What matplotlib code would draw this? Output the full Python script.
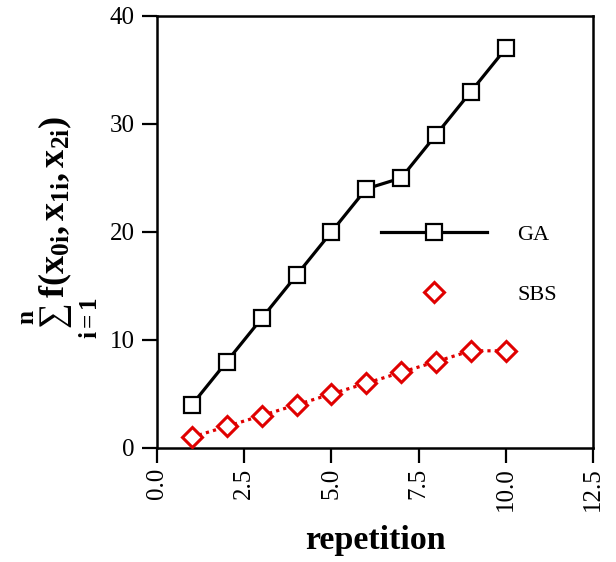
import matplotlib
matplotlib.use("Agg")
import matplotlib.pyplot as plt
from matplotlib.lines import Line2D

repetition = [1, 2, 3, 4, 5, 6, 7, 8, 9, 10]
ga_values = [4, 8, 12, 16, 20, 24, 25, 29, 33, 37]
sbs_values = [1, 2, 3, 4, 5, 6, 7, 8, 9, 9]
x_ticks = [0.0, 2.5, 5.0, 7.5, 10.0, 12.5]
y_ticks = [0, 10, 20, 30, 40]

plt.rcParams['font.family'] = ['Liberation Serif', 'DejaVu Serif']
plt.rcParams['mathtext.fontset'] = 'custom'
plt.rcParams['mathtext.rm'] = 'Liberation Serif'
plt.rcParams['mathtext.it'] = 'Liberation Serif:italic'
plt.rcParams['mathtext.bf'] = 'Liberation Serif:bold'

fig = plt.figure(figsize=(6.16, 5.62), dpi=100)
ax = fig.add_axes([157/616, 1-448/562, 436/616, 432/562])

red = '#e00000'
ax.plot(repetition, ga_values, color='black', lw=2.3, marker='s', ms=12,
        mfc='white', mec='black', mew=1.6, zorder=3)
ax.plot(repetition, sbs_values, color=red, lw=2.3, ls=(0, (1, 1.3)), marker='D', ms=10,
        mfc='white', mec=red, mew=2.2, zorder=3)

ax.set_xlim(0, 12.5)
ax.set_ylim(0, 40)
ax.set_xticks(x_ticks)
ax.set_xticklabels([f"{v:.1f}" for v in x_ticks], rotation=90)
ax.set_yticks(y_ticks)
ax.set_yticklabels([str(v) for v in y_ticks])
ax.tick_params(direction='out', length=11, width=1.6, labelsize=18, top=False, right=False)
ax.tick_params(axis='x', pad=3)
ax.tick_params(axis='y', pad=5)
for s in ax.spines.values():
    s.set_linewidth(1.8)

ax.set_xlabel('repetition', fontsize=24.5, fontweight='bold', labelpad=10)
ax.set_ylabel(r'$\sum_{\mathbf{i=1}}^{\mathbf{n}}\mathbf{f(x_{0i},x_{1i},x_{2i})}$', fontsize=26)
ax.yaxis.set_label_coords(-0.13, 0.51)

handles = [
    Line2D([], [], color='black', lw=2.3, marker='s', ms=12, mfc='white', mec='black', mew=1.6),
    Line2D([], [], ls='none', marker='D', ms=10, mfc='white', mec=red, mew=2.2),
]
ax.legend(handles, ['GA', 'SBS'], loc='upper left', bbox_to_anchor=(0.468, 0.564),
          frameon=False, fontsize=16, handlelength=4.77, handletextpad=1.35, labelspacing=1.76)

fig.savefig('out.png', dpi=100)
